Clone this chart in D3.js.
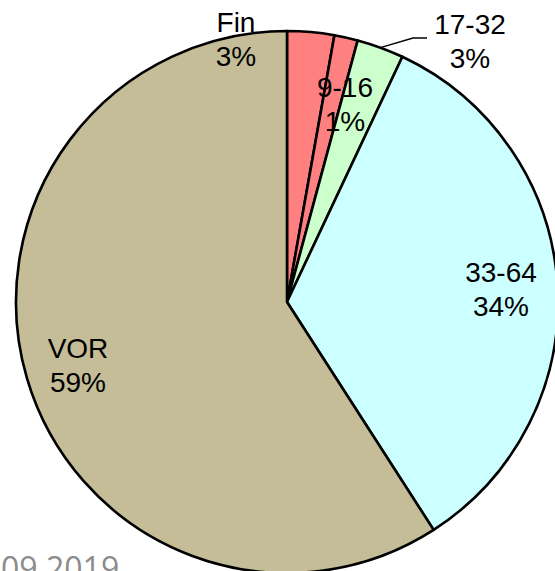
<!DOCTYPE html>
<html>
<head>
<meta charset="utf-8">
<script src="https://cdn.jsdelivr.net/npm/d3@7"></script>
<style>
  html, body { margin: 0; padding: 0; background: #fff; }
  svg { display: block; }
</style>
</head>
<body>
<svg id="chart" width="555" height="571"></svg>
<script>
// Data
const categories = ["Fin", "9-16", "17-32", "33-64", "VOR"];
const values = [2.8, 1.4, 2.8, 33.9, 59.1];
const percentLabels = ["3%", "1%", "3%", "34%", "59%"];
const colors = ["#FF8080", "#FF8080", "#CCFFCC", "#CCFFFF", "#C4BD97"];

// Layout (label anchor points: x center, baseline of first line)
const cx = 287, cy = 302, radius = 271;
const labelAnchors = [[236, 32], [345, 97], [470, 34], [501, 282], [78, 358]];
const lineGap = 34;

const svg = d3.select("#chart");
const g = svg.append("g").attr("transform", `translate(${cx},${cy})`);

const pie = d3.pie().sort(null).value(d => d.value).startAngle(0).endAngle(2 * Math.PI);
const arc = d3.arc().innerRadius(0).outerRadius(radius);
const data = categories.map((c, i) => ({ cat: c, value: values[i], pct: percentLabels[i], color: colors[i] }));
const arcs = pie(data);

g.selectAll("path.slice")
  .data(arcs)
  .join("path")
  .attr("class", "slice")
  .attr("d", arc)
  .attr("fill", d => d.data.color)
  .attr("stroke", "#000")
  .attr("stroke-width", 2.6)
  .attr("stroke-linejoin", "round");

// Leader line for 17-32 label
const a17 = arcs[2];
const midA = (a17.startAngle + a17.endAngle) / 2;
const px = cx + Math.sin(midA) * radius, py = cy - Math.cos(midA) * radius;
svg.append("polyline")
  .attr("points", `${px},${py} ${413},${38} ${427},${38}`)
  .attr("fill", "none")
  .attr("stroke", "#000")
  .attr("stroke-width", 1.4);

// Labels
const labels = svg.selectAll("text.lbl")
  .data(data)
  .join("text")
  .attr("class", "lbl")
  .attr("text-anchor", "middle")
  .attr("font-family", "Liberation Sans, Arial, sans-serif")
  .attr("font-size", 28)
  .attr("fill", "#000");
labels.append("tspan")
  .attr("x", (d, i) => labelAnchors[i][0])
  .attr("y", (d, i) => labelAnchors[i][1])
  .text(d => d.cat);
labels.append("tspan")
  .attr("x", (d, i) => labelAnchors[i][0])
  .attr("y", (d, i) => labelAnchors[i][1] + lineGap)
  .text(d => d.pct);

// Date footer (partially cut off, as in the reference)
svg.append("text")
  .attr("x", 1)
  .attr("y", 580)
  .attr("font-family", "Open Sans, sans-serif")
  .attr("font-size", 32)
  .attr("fill", "#8C8C8C")
  .text("09.2019");
</script>
</body>
</html>
